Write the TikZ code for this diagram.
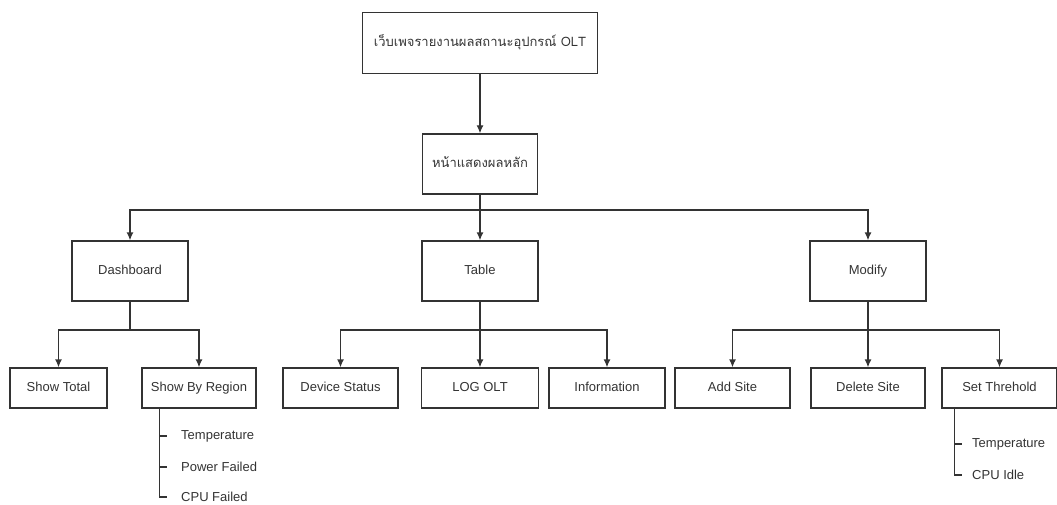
\documentclass[tikz,border=0pt]{standalone}
\usepackage{fontspec}
\setmainfont{Liberation Sans}
\newfontfamily\thaifont[Script=Thai]{Loma}
\usetikzlibrary{arrows.meta}
\tikzset{>=stealth}
\tikzset{
  box/.style={draw=black!80, line width=1.3pt, inner sep=0pt, minimum width=116pt,
    minimum height=60pt, text=black!80, text height=9.5pt, text depth=2.5pt,
    font=\fontsize{13}{15}\selectfont},
  leaf/.style={box, minimum width=115pt, minimum height=40pt},
  item/.style={anchor=west, inner sep=0pt, text=black!80, font=\fontsize{13}{15}\selectfont},
  link/.style={draw=black!80, line width=1.3pt, -{Latex[length=8pt,width=7pt]}},
  tree/.style={draw=black!80, line width=1.3pt},
}
\begin{document}
\begin{tikzpicture}[x=1pt,y=-1pt]
      \useasboundingbox (0,0) rectangle (1057,505);
      % levels
      \coordinate (bus1) at (0,210);
      \coordinate (bus2) at (0,330);
      \node[box, minimum width=235pt, minimum height=61pt] (web) at (480,43) {\thaifont เว็บเพจรายงานผลสถานะอุปกรณ์ OLT};
      \node[box, minimum width=115pt] (main) at (480,164) {\thaifont หน้าแสดงผลหลัก};
      \node[box] (dash) at (130,271) {Dashboard};
      \node[box] (table) at (480,271) {Table};
      \node[box] (modify) at (868,271) {Modify};
      \node[leaf, minimum width=97pt] (total) at (58.5,388) {Show Total};
      \node[leaf, minimum width=114pt] (region) at (199,388) {Show By Region};
      \node[leaf] (status) at (340.5,388) {Device Status};
      \node[leaf, minimum width=117pt] (log) at (480,388) {LOG OLT};
      \node[leaf, minimum width=116pt] (info) at (607,388) {Information};
      \node[leaf] (add) at (732.5,388) {Add Site};
      \node[leaf, minimum width=114pt] (delete) at (868,388) {Delete Site};
      \node[leaf] (thres) at (999.5,388) {Set Threhold};
      % sub items
      \node[item] (rtemp) at (181,436) {Temperature};
      \node[item] (rpower) at (181,467) {Power Failed};
      \node[item] (rcpu) at (181,497) {CPU Failed};
      \node[item] (ttemp) at (972,444) {Temperature};
      \node[item] (tidle) at (972,475) {CPU Idle};
      % top
      \draw[link] (web.south) -- (main.north);
      \draw[tree] (main.south) -- (main.south |- bus1);
      \draw[link] (main.south |- bus1) -| (dash.north);
      \draw[link] (main.south |- bus1) -| (modify.north);
      \draw[link] (main.south) -- (table.north);
      % dashboard
      \draw[tree] (dash.south) -- (dash.south |- bus2);
      \draw[link] (dash.south |- bus2) -| (total.north);
      \draw[link] (dash.south |- bus2) -| (region.north);
      % table
      \draw[tree] (table.south) -- (table.south |- bus2);
      \draw[link] (table.south |- bus2) -| (status.north);
      \draw[link] (table.south |- bus2) -| (info.north);
      \draw[link] (table.south) -- (log.north);
      % modify
      \draw[tree] (modify.south) -- (modify.south |- bus2);
      \draw[link] (modify.south |- bus2) -| (add.north);
      \draw[link] (modify.south |- bus2) -| (thres.north);
      \draw[link] (modify.south) -- (delete.north);
      % lists
      \draw[tree] ([xshift=18pt]region.south west) |- ([xshift=-14pt]rcpu.west);
      \draw[tree] ([xshift=18pt]region.south west |- rtemp.west) -- ([xshift=-14pt]rtemp.west);
      \draw[tree] ([xshift=18pt]region.south west |- rpower.west) -- ([xshift=-14pt]rpower.west);
      \draw[tree] ([xshift=13pt]thres.south west) |- ([xshift=-10pt]tidle.west);
      \draw[tree] ([xshift=13pt]thres.south west |- ttemp.west) -- ([xshift=-10pt]ttemp.west);
\end{tikzpicture}
\end{document}
